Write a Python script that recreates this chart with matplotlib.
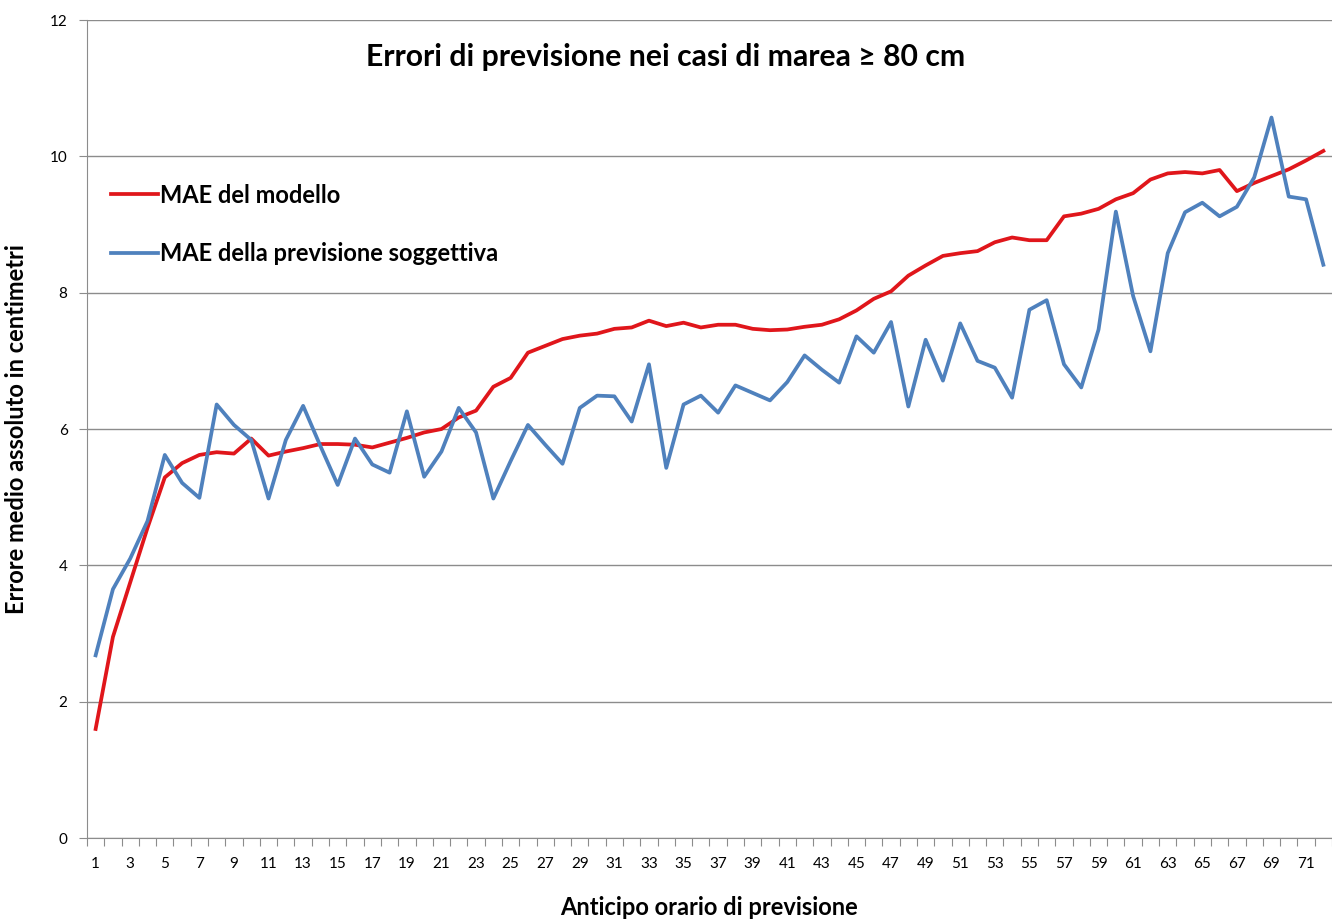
import numpy as np
import matplotlib.pyplot as plt

# Data
ore = list(range(1, 73))

mae_modello = [
    1.60, 2.95, 3.75, 4.55, 5.29, 5.50, 5.62, 5.66, 5.64, 5.86,
    5.61, 5.67, 5.72, 5.78, 5.78, 5.77, 5.73, 5.80, 5.87, 5.95,
    6.00, 6.17, 6.27, 6.62, 6.75, 7.12, 7.22, 7.32, 7.37, 7.40,
    7.47, 7.49, 7.59, 7.51, 7.56, 7.49, 7.53, 7.53, 7.47, 7.45,
    7.46, 7.50, 7.53, 7.61, 7.74, 7.91, 8.02, 8.25, 8.40, 8.54,
    8.58, 8.61, 8.74, 8.81, 8.77, 8.77, 9.12, 9.16, 9.23, 9.37,
    9.46, 9.66, 9.75, 9.77, 9.75, 9.80, 9.49, 9.61, 9.71, 9.81,
    9.94, 10.08,
]

mae_soggettiva = [
    2.68, 3.65, 4.10, 4.65, 5.62, 5.21, 4.99, 6.36, 6.06, 5.84,
    4.98, 5.84, 6.34, 5.75, 5.18, 5.86, 5.48, 5.36, 6.26, 5.30,
    5.67, 6.31, 5.95, 4.98, 5.53, 6.06, 5.77, 5.49, 6.31, 6.49,
    6.48, 6.11, 6.95, 5.43, 6.36, 6.49, 6.24, 6.64, 6.53, 6.42,
    6.69, 7.08, 6.87, 6.68, 7.36, 7.12, 7.57, 6.33, 7.31, 6.71,
    7.55, 7.00, 6.90, 6.46, 7.75, 7.89, 6.95, 6.61, 7.46, 9.19,
    7.95, 7.14, 8.58, 9.18, 9.32, 9.12, 9.26, 9.69, 10.57, 9.41,
    9.37, 8.41,
]

plt.rcParams['font.family'] = ['Lato', 'DejaVu Sans']

fig = plt.figure(figsize=(13.32, 9.19), dpi=100)
ax = fig.add_axes([0.0653, 0.0881, 0.9347, 0.8901])

ax.plot(ore, mae_modello, color="#E0161B", lw=2.7, label="MAE del modello")
ax.plot(ore, mae_soggettiva, color="#4F81BD", lw=2.7, label="MAE della previsione soggettiva")

ax.set_xlim(0.5, 72.5)
ax.set_ylim(0, 12)
ax.set_yticks(range(0, 13, 2))
ax.grid(axis="y", color="#8c8c8c", lw=1)
ax.set_axisbelow(True)

# category boundaries get the tick marks, odd categories get the labels
ax.set_xticks(np.arange(0.5, 73, 1))
ax.set_xticklabels([])
ax.set_xticks(ore[::2], minor=True)
ax.set_xticklabels([str(o) for o in ore[::2]], minor=True)
ax.tick_params(axis="x", which="major", length=6, color="#8c8c8c")
ax.tick_params(axis="x", which="minor", length=0, pad=14, labelsize=11)
ax.tick_params(axis="y", length=6, color="#8c8c8c", labelsize=11, pad=8)

for s in ["top", "right"]:
    ax.spines[s].set_visible(False)
for s in ["left", "bottom"]:
    ax.spines[s].set_color("#8c8c8c")

ax.set_xlabel("Anticipo orario di previsione", fontsize=17, fontweight="bold", labelpad=18)
ax.set_ylabel("Errore medio assoluto in centimetri", fontsize=17, fontweight="bold", labelpad=16)
fig.text(0.5, 1 - 57 / 919, "Errori di previsione nei casi di marea ≥ 80 cm",
         ha="center", va="center", fontsize=21.7, fontweight="bold")

ax.legend(loc="upper left", bbox_to_anchor=(0.002, 0.826), frameon=False,
          prop={"size": 17, "weight": "bold"}, handlelength=2.0, handletextpad=0.1,
          labelspacing=1.5)

fig.savefig("out.png", dpi=100)
